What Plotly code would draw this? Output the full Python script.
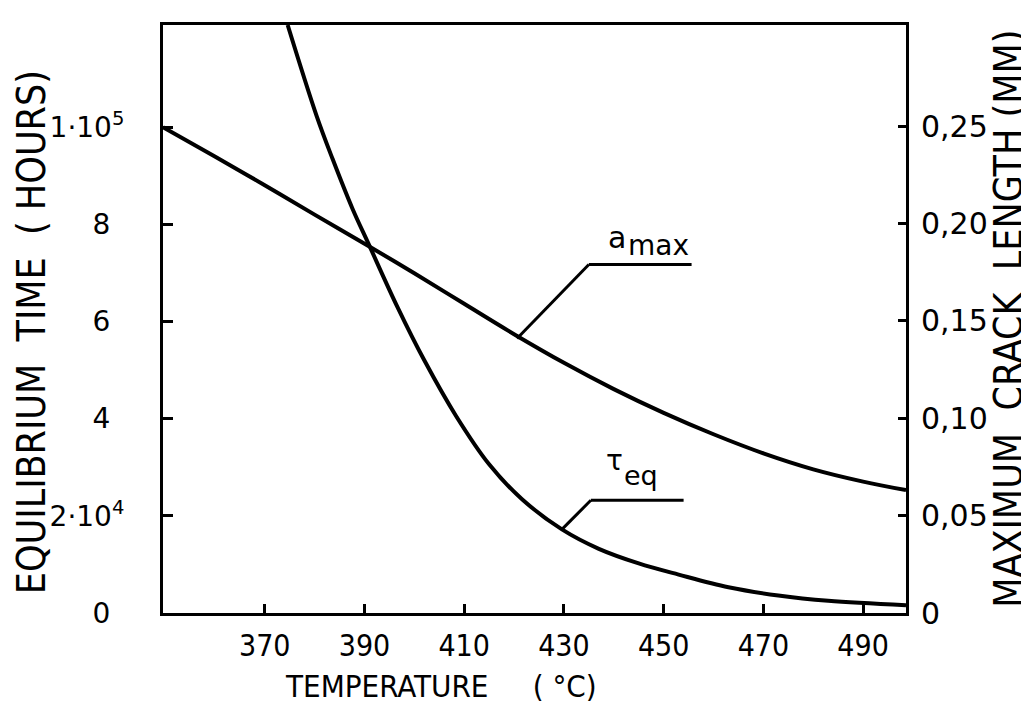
import plotly.graph_objects as go

# ---- data ----
temp_amax = [349.6, 360, 370, 380, 390.8, 400, 410, 420, 430, 440, 450, 460, 470, 480, 490, 498.6]
amax_mm   = [0.2495, 0.2345, 0.2197, 0.2046, 0.1885, 0.1745, 0.1588, 0.1432, 0.1285, 0.1150,
             0.1028, 0.0918, 0.0820, 0.0738, 0.0675, 0.0631]

temp_teq  = [374.6, 380.4, 383.6, 387.6, 390.8, 396.6, 402, 408.4, 415, 421.6, 429.6, 437,
             445, 453, 463, 473, 483, 498.6]
teq_hours = [121000, 102300, 93460, 83190, 76000, 63000, 52000, 40500, 30600, 23400, 17200, 13200,
             10200, 7900, 5300, 3600, 2500, 1600]

x_ticks = [370, 390, 410, 430, 450, 470, 490]
y_ticks = [0, 20000, 40000, 60000, 80000, 100000]
y_ticktext = ["0\u2002", "2·10<sup>4</sup>", "4\u2002", "6\u2002", "8\u2002", "1·10<sup>5</sup>"]
y2_ticks = [0, 0.05, 0.10, 0.15, 0.20, 0.25]
y2_ticktext = ["0", "0,05", "0,10", "0,15", "0,20", "0,25"]

# label leader lines: curve point (x0, y0) -> knee (x1, y1) -> underline end x2
amax_leader = [420.6, 0.141, 435.0, 0.179, 455.6]
teq_leader = [429.6, 17200, 435.4, 23200, 454.0]

FONT = "DejaVu Sans Condensed, Liberation Sans Narrow, DejaVu Sans, sans-serif"
FONT2 = "DejaVu Sans, sans-serif"
SP = "\u00a0"

fig = go.Figure()
fig.add_trace(go.Scatter(x=temp_teq, y=teq_hours, mode="lines",
                         line=dict(color="black", width=4, shape="spline", smoothing=1.0),
                         yaxis="y", showlegend=False))
fig.add_trace(go.Scatter(x=temp_amax, y=amax_mm, mode="lines",
                         line=dict(color="black", width=4, shape="spline", smoothing=1.0),
                         yaxis="y2", showlegend=False))

# leader lines
x0, y0, x1, y1, x2 = amax_leader
fig.add_shape(type="line", xref="x", yref="y2", x0=x0, y0=y0, x1=x1, y1=y1, line=dict(color="black", width=3))
fig.add_shape(type="line", xref="x", yref="y2", x0=x1, y0=y1, x1=x2, y1=y1, line=dict(color="black", width=3))
x0, y0, x1, y1, x2 = teq_leader
fig.add_shape(type="line", xref="x", yref="y", x0=x0, y0=y0, x1=x1, y1=y1, line=dict(color="black", width=3))
fig.add_shape(type="line", xref="x", yref="y", x0=x1, y0=y1, x1=x2, y1=y1, line=dict(color="black", width=3))

fig.add_annotation(x=amax_leader[2] + 3.5, y=amax_leader[3], xref="x", yref="y2",
                   text="a", showarrow=False, xanchor="left", yanchor="bottom",
                   yshift=7, font=dict(family=FONT2, size=30, color="black"))
fig.add_annotation(x=amax_leader[2] + 7.5, y=amax_leader[3], xref="x", yref="y2",
                   text="max", showarrow=False, xanchor="left", yanchor="bottom",
                   yshift=0, font=dict(family=FONT2, size=28, color="black"))
fig.add_annotation(x=teq_leader[2] + 2.6, y=teq_leader[3], xref="x", yref="y",
                   text="τ", showarrow=False, xanchor="left", yanchor="bottom",
                   yshift=21, font=dict(family=FONT2, size=28, color="black"))
fig.add_annotation(x=teq_leader[2] + 6.2, y=teq_leader[3], xref="x", yref="y",
                   text="eq", showarrow=False, xanchor="left", yanchor="bottom",
                   yshift=7, font=dict(family=FONT2, size=27, color="black"))

# axis titles
fig.add_annotation(x=0.374, y=-0.124, xref="paper", yref="paper", showarrow=False,
                   xanchor="center", yanchor="middle",
                   text="TEMPERATURE" + SP * 5 + "( °C)",
                   font=dict(family=FONT, size=31, color="black"))
fig.add_annotation(x=-0.176, y=0.478, xref="paper", yref="paper", showarrow=False, textangle=-90,
                   xanchor="center", yanchor="middle",
                   text="EQUILIBRIUM" + SP * 2 + "TIME" + SP * 2 + "(" + SP + "HOURS)",
                   font=dict(family=FONT, size=39, color="black"))
fig.add_annotation(x=1.137, y=0.50, xref="paper", yref="paper", showarrow=False, textangle=-90,
                   xanchor="center", yanchor="middle",
                   text="MAXIMUM" + SP * 2 + "CRACK" + SP * 2 + "LENGTH" + SP + "(MM)",
                   font=dict(family=FONT, size=39, color="black"))

fig.update_layout(
    width=1029, height=704,
    margin=dict(l=155, r=131, t=17, b=99, autoexpand=False),
    paper_bgcolor="white", plot_bgcolor="white",
    xaxis=dict(range=[349.6, 498.6], tickvals=x_ticks, ticks="inside", ticklen=9, tickwidth=2.5,
               tickcolor="black", showline=True, linecolor="black", linewidth=3, mirror=True,
               showgrid=False, zeroline=False, ticklabelstandoff=4, automargin=False,
               tickfont=dict(family=FONT, size=30, color="black")),
    yaxis=dict(range=[0, 121000], tickvals=y_ticks, ticktext=y_ticktext, ticks="inside", ticklen=10,
               tickwidth=2.5, tickcolor="black", showline=True, linecolor="black", linewidth=3,
               showgrid=False, zeroline=False, ticklabelstandoff=30, automargin=False,
               tickfont=dict(family=FONT2, size=28, color="black")),
    yaxis2=dict(range=[0, 0.302], tickvals=y2_ticks, ticktext=y2_ticktext, overlaying="y", side="right",
                ticks="inside", ticklen=8, tickwidth=2.5, tickcolor="black", showline=True,
                linecolor="black", linewidth=3, showgrid=False, zeroline=False, ticklabelstandoff=6,
                automargin=False, tickfont=dict(family=FONT2, size=30, color="black")),
)

fig.write_html("out.html")
